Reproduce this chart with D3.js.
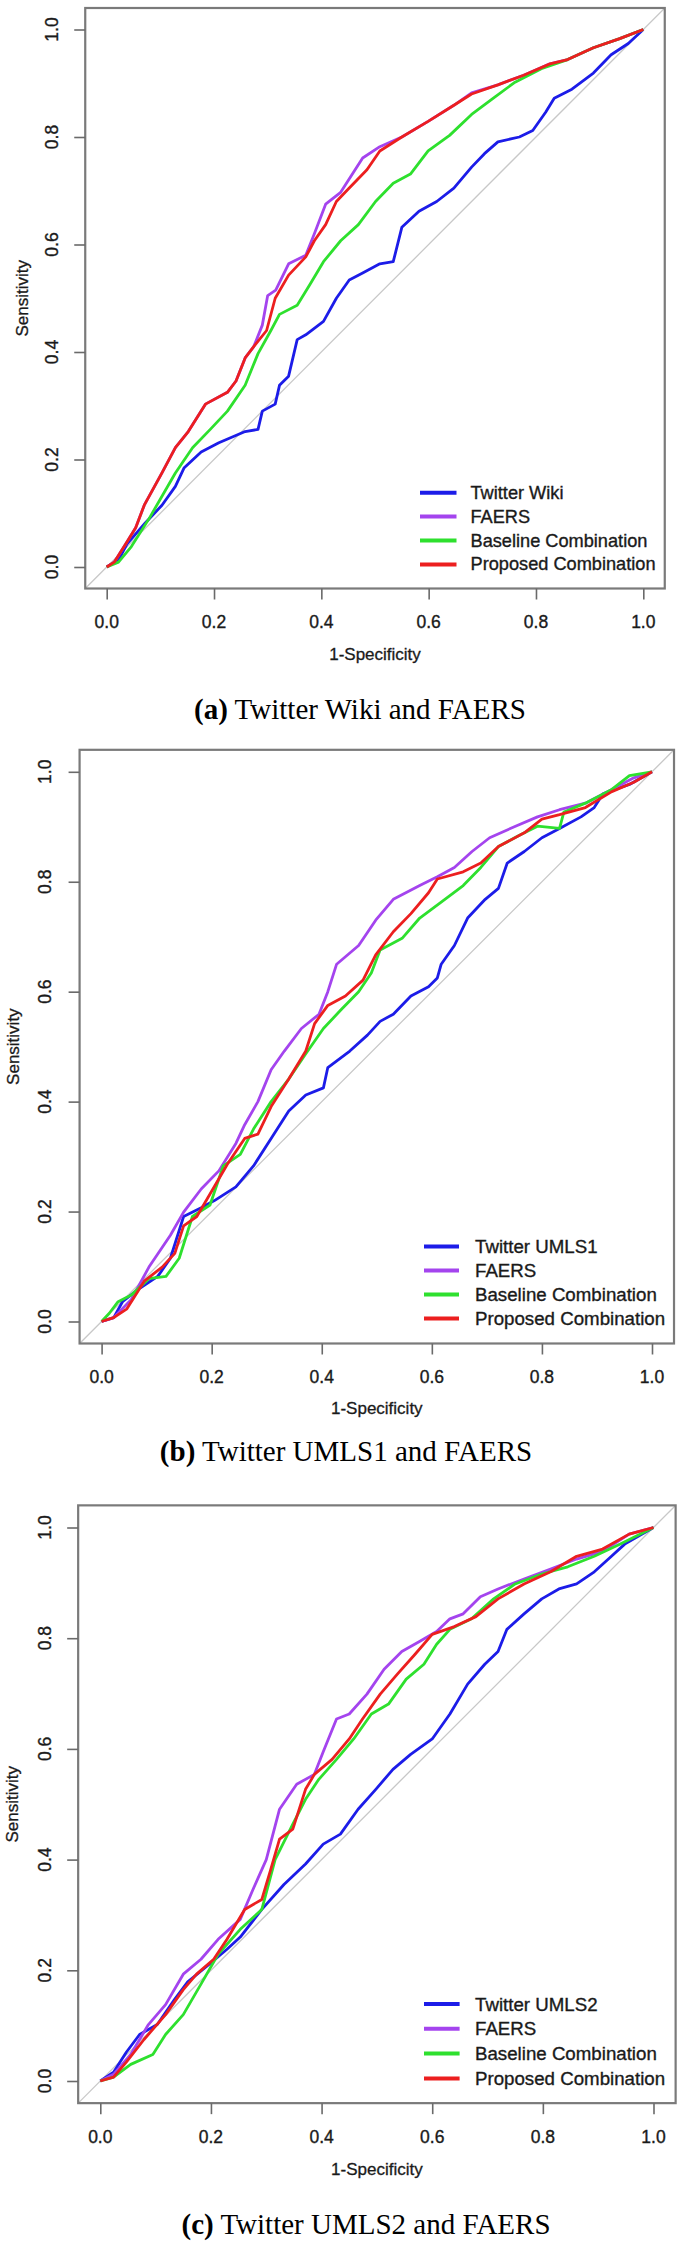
<!DOCTYPE html>
<html>
<head>
<meta charset="utf-8">
<script src="https://cdn.jsdelivr.net/npm/d3@7"></script>
<style>
  body { margin: 0; background: #fff; }
  svg { display: block; }
</style>
</head>
<body>
<svg id="chart" width="685" height="2244"></svg>
<script>
// tick values shared by every panel
const ticks = [0, 0.2, 0.4, 0.6, 0.8, 1.0];

// legend order = draw order
const colors = ['#1c1ce8', '#a444ee', '#2ee02e', '#ec1f1f'];

const namesA = ['Twitter Wiki', 'FAERS', 'Baseline Combination', 'Proposed Combination'];
const namesB = ['Twitter UMLS1', 'FAERS', 'Baseline Combination', 'Proposed Combination'];
const namesC = ['Twitter UMLS2', 'FAERS', 'Baseline Combination', 'Proposed Combination'];

// (a) Twitter Wiki and FAERS : [1-specificity, sensitivity]
const aTwitter = [[0,0],[0.022,0.013],[0.038,0.043],[0.071,0.081],[0.103,0.115],[0.128,0.15],[0.144,0.184],[0.176,0.214],[0.209,0.231],[0.258,0.252],[0.282,0.256],[0.29,0.29],[0.314,0.303],[0.322,0.338],[0.339,0.355],[0.355,0.423],[0.371,0.432],[0.404,0.457],[0.428,0.5],[0.452,0.534],[0.477,0.547],[0.509,0.564],[0.534,0.568],[0.55,0.632],[0.582,0.662],[0.615,0.68],[0.647,0.705],[0.68,0.744],[0.704,0.769],[0.729,0.791],[0.769,0.8],[0.794,0.812],[0.818,0.846],[0.834,0.872],[0.867,0.889],[0.907,0.919],[0.94,0.953],[0.972,0.974],[1,1]];
const aFaers = [[0,0],[0.014,0.009],[0.038,0.047],[0.054,0.073],[0.07,0.115],[0.103,0.175],[0.128,0.222],[0.152,0.252],[0.184,0.303],[0.225,0.325],[0.241,0.346],[0.258,0.389],[0.274,0.41],[0.29,0.45],[0.3,0.505],[0.315,0.515],[0.339,0.564],[0.371,0.58],[0.387,0.62],[0.408,0.675],[0.436,0.697],[0.477,0.761],[0.509,0.782],[0.55,0.8],[0.599,0.829],[0.647,0.859],[0.68,0.882],[0.729,0.897],[0.777,0.915],[0.826,0.936],[0.859,0.944],[0.907,0.966],[0.956,0.983],[1,1]];
const aBaseline = [[0,0],[0.022,0.009],[0.046,0.038],[0.079,0.09],[0.128,0.175],[0.16,0.222],[0.193,0.256],[0.225,0.29],[0.258,0.338],[0.282,0.397],[0.306,0.44],[0.322,0.47],[0.355,0.487],[0.379,0.526],[0.404,0.568],[0.436,0.607],[0.469,0.637],[0.501,0.68],[0.534,0.714],[0.566,0.731],[0.599,0.774],[0.639,0.803],[0.68,0.842],[0.72,0.872],[0.761,0.902],[0.81,0.927],[0.859,0.944],[0.907,0.966],[0.956,0.983],[1,1]];
const aProposed = [[0,0],[0.014,0.009],[0.038,0.047],[0.054,0.073],[0.07,0.115],[0.103,0.175],[0.128,0.222],[0.152,0.252],[0.184,0.303],[0.225,0.325],[0.241,0.346],[0.258,0.389],[0.274,0.41],[0.298,0.44],[0.314,0.5],[0.339,0.543],[0.371,0.577],[0.387,0.607],[0.408,0.637],[0.428,0.68],[0.452,0.705],[0.485,0.739],[0.509,0.774],[0.55,0.8],[0.599,0.829],[0.647,0.859],[0.68,0.88],[0.729,0.897],[0.777,0.915],[0.826,0.936],[0.859,0.944],[0.907,0.966],[0.956,0.983],[1,1]];

// (b) Twitter UMLS1 and FAERS
const bTwitter = [[0,0],[0.022,0.007],[0.038,0.036],[0.07,0.061],[0.102,0.082],[0.125,0.115],[0.149,0.191],[0.181,0.207],[0.205,0.22],[0.244,0.245],[0.276,0.283],[0.308,0.333],[0.34,0.383],[0.371,0.412],[0.403,0.425],[0.411,0.462],[0.451,0.492],[0.483,0.521],[0.506,0.546],[0.53,0.559],[0.562,0.592],[0.594,0.609],[0.61,0.625],[0.617,0.65],[0.641,0.684],[0.665,0.734],[0.697,0.768],[0.721,0.788],[0.737,0.834],[0.768,0.855],[0.8,0.88],[0.832,0.897],[0.871,0.918],[0.895,0.935],[0.911,0.96],[0.959,0.977],[1,1]];
const bFaers = [[0,0],[0.022,0.007],[0.054,0.04],[0.086,0.099],[0.125,0.157],[0.149,0.199],[0.181,0.241],[0.213,0.274],[0.244,0.324],[0.26,0.358],[0.284,0.4],[0.308,0.458],[0.332,0.492],[0.363,0.533],[0.395,0.559],[0.411,0.6],[0.427,0.65],[0.467,0.684],[0.498,0.73],[0.53,0.768],[0.578,0.793],[0.61,0.809],[0.641,0.826],[0.673,0.855],[0.705,0.88],[0.752,0.901],[0.792,0.918],[0.832,0.931],[0.879,0.943],[0.927,0.968],[0.967,0.989],[1,1]];
const bBaseline = [[0,0],[0.014,0.015],[0.03,0.036],[0.054,0.048],[0.086,0.078],[0.117,0.082],[0.141,0.115],[0.165,0.191],[0.197,0.212],[0.221,0.283],[0.252,0.304],[0.276,0.35],[0.308,0.4],[0.34,0.441],[0.371,0.487],[0.403,0.533],[0.435,0.567],[0.467,0.6],[0.49,0.634],[0.506,0.676],[0.546,0.697],[0.578,0.734],[0.617,0.763],[0.657,0.793],[0.689,0.826],[0.721,0.864],[0.76,0.885],[0.792,0.901],[0.832,0.897],[0.84,0.927],[0.879,0.943],[0.927,0.968],[0.959,0.993],[1,1]];
const bProposed = [[0,0],[0.022,0.007],[0.046,0.023],[0.078,0.074],[0.11,0.099],[0.133,0.124],[0.149,0.174],[0.173,0.191],[0.197,0.232],[0.229,0.287],[0.26,0.333],[0.284,0.341],[0.308,0.391],[0.34,0.441],[0.371,0.492],[0.387,0.542],[0.411,0.575],[0.443,0.592],[0.475,0.621],[0.498,0.667],[0.53,0.709],[0.562,0.742],[0.594,0.78],[0.61,0.805],[0.657,0.818],[0.689,0.834],[0.721,0.864],[0.768,0.889],[0.8,0.914],[0.832,0.922],[0.879,0.935],[0.927,0.964],[0.967,0.981],[1,1]];

// (c) Twitter UMLS2 and FAERS
const cTwitter = [[0,0],[0.024,0.016],[0.047,0.052],[0.071,0.084],[0.103,0.102],[0.134,0.147],[0.158,0.179],[0.197,0.211],[0.229,0.238],[0.253,0.26],[0.292,0.31],[0.332,0.355],[0.371,0.392],[0.403,0.428],[0.434,0.446],[0.466,0.491],[0.498,0.527],[0.529,0.563],[0.561,0.59],[0.6,0.618],[0.632,0.663],[0.664,0.717],[0.695,0.753],[0.719,0.776],[0.735,0.816],[0.766,0.844],[0.798,0.871],[0.829,0.889],[0.861,0.898],[0.893,0.92],[0.924,0.948],[0.948,0.97],[1,1]];
const cFaers = [[0,0],[0.024,0.012],[0.055,0.048],[0.087,0.102],[0.118,0.138],[0.15,0.193],[0.182,0.22],[0.213,0.256],[0.253,0.292],[0.276,0.346],[0.3,0.4],[0.324,0.491],[0.355,0.536],[0.387,0.554],[0.403,0.595],[0.427,0.654],[0.45,0.663],[0.482,0.699],[0.513,0.744],[0.545,0.776],[0.577,0.794],[0.608,0.812],[0.632,0.835],[0.656,0.844],[0.687,0.875],[0.719,0.889],[0.766,0.907],[0.814,0.925],[0.861,0.943],[0.908,0.957],[0.956,0.988],[1,1]];
const cBaseline = [[0,0],[0.024,0.007],[0.055,0.03],[0.095,0.048],[0.118,0.084],[0.15,0.12],[0.182,0.175],[0.213,0.229],[0.253,0.274],[0.292,0.31],[0.316,0.4],[0.348,0.464],[0.371,0.509],[0.395,0.545],[0.427,0.581],[0.458,0.618],[0.49,0.663],[0.521,0.681],[0.553,0.726],[0.585,0.753],[0.608,0.789],[0.632,0.816],[0.671,0.835],[0.711,0.871],[0.75,0.898],[0.798,0.916],[0.845,0.929],[0.893,0.948],[0.94,0.97],[1,1]];
const cProposed = [[0,0],[0.024,0.007],[0.047,0.034],[0.079,0.075],[0.118,0.12],[0.15,0.165],[0.174,0.193],[0.205,0.22],[0.229,0.256],[0.261,0.31],[0.292,0.328],[0.308,0.382],[0.324,0.437],[0.348,0.455],[0.371,0.527],[0.387,0.554],[0.419,0.581],[0.45,0.618],[0.474,0.654],[0.506,0.699],[0.537,0.735],[0.569,0.771],[0.6,0.807],[0.64,0.821],[0.679,0.839],[0.719,0.871],[0.766,0.898],[0.814,0.92],[0.861,0.948],[0.908,0.961],[0.956,0.988],[1,1]];

// panel layout (pixel positions of the data range 0..1, labels, legend, caption)
const panels = [
  { tag: '(a)', caption: 'Twitter Wiki and FAERS', names: namesA,
    curves: [aTwitter, aFaers, aBaseline, aProposed],
    left: 106.7, right: 643.3, bottom: 567, top: 29.5,
    yLabelX: 52, yTitleX: 22, xLabelY: 622, xTitleY: 654,
    legX1: 420, legX2: 456.5, legTextX: 470.5, legY: 492.7, legStep: 23.9, legFont: 18.2,
    capX: 360, capY: 719 },
  { tag: '(b)', caption: 'Twitter UMLS1 and FAERS', names: namesB,
    curves: [bTwitter, bFaers, bBaseline, bProposed],
    left: 101.6, right: 652, bottom: 1321.5, top: 771.8,
    yLabelX: 45, yTitleX: 13, xLabelY: 1377, xTitleY: 1408.6,
    legX1: 424, legX2: 459, legTextX: 475, legY: 1246.5, legStep: 24, legFont: 18.7,
    capX: 346, capY: 1461 },
  { tag: '(c)', caption: 'Twitter UMLS2 and FAERS', names: namesC,
    curves: [cTwitter, cFaers, cBaseline, cProposed],
    left: 100.3, right: 653.5, bottom: 2081, top: 1527.5,
    yLabelX: 45, yTitleX: 12, xLabelY: 2137, xTitleY: 2169,
    legX1: 424, legX2: 459.6, legTextX: 475, legY: 2004, legStep: 24.8, legFont: 18.7,
    capX: 366, capY: 2234 }
];

const svg = d3.select('#chart');
const SANS = 'Liberation Sans, Arial, Helvetica, sans-serif';
const SERIF = 'Liberation Serif, Times New Roman, serif';

panels.forEach((p, i) => {
  // R pads the data range by 4% on each side
  const x = d3.scaleLinear().domain([0, 1]).range([p.left, p.right]);
  const y = d3.scaleLinear().domain([0, 1]).range([p.bottom, p.top]);
  const bx0 = x(-0.04), bx1 = x(1.04), by0 = y(-0.04), by1 = y(1.04);

  const g = svg.append('g');

  const clipId = 'clip' + i;
  g.append('clipPath').attr('id', clipId)
    .append('rect')
    .attr('x', bx0).attr('y', by1)
    .attr('width', bx1 - bx0).attr('height', by0 - by1);

  // chance diagonal
  g.append('line')
    .attr('clip-path', `url(#${clipId})`)
    .attr('x1', x(-0.04)).attr('y1', y(-0.04))
    .attr('x2', x(1.04)).attr('y2', y(1.04))
    .attr('stroke', '#c8c8c8')
    .attr('stroke-width', 1.3);

  // roc curves
  const line = d3.line().x(d => x(d[0])).y(d => y(d[1]));
  g.selectAll('path.roc')
    .data(p.curves)
    .join('path')
    .attr('class', 'roc')
    .attr('clip-path', `url(#${clipId})`)
    .attr('d', line)
    .attr('fill', 'none')
    .attr('stroke', (d, k) => colors[k])
    .attr('stroke-width', 2.8)
    .attr('stroke-linejoin', 'round');

  // frame
  g.append('rect')
    .attr('x', bx0).attr('y', by1)
    .attr('width', bx1 - bx0).attr('height', by0 - by1)
    .attr('fill', 'none')
    .attr('stroke', '#7a7a7a')
    .attr('stroke-width', 2.2);

  // axes (ticks only, labels drawn separately)
  const xAxis = g.append('g')
    .attr('transform', `translate(0,${by0})`)
    .call(d3.axisBottom(x).tickValues(ticks).tickSize(11).tickFormat(''));
  const yAxis = g.append('g')
    .attr('transform', `translate(${bx0},0)`)
    .call(d3.axisLeft(y).tickValues(ticks).tickSize(11).tickFormat(''));
  [xAxis, yAxis].forEach(a => {
    a.select('.domain').remove();
    a.selectAll('line').attr('stroke', '#6a6a6a').attr('stroke-width', 1.6);
  });

  // x tick labels
  g.selectAll('text.xtick')
    .data(ticks)
    .join('text')
    .attr('class', 'xtick')
    .attr('x', d => x(d))
    .attr('y', p.xLabelY)
    .attr('text-anchor', 'middle')
    .attr('dominant-baseline', 'central')
    .style('font', `17.5px ${SANS}`)
    .attr('fill', '#1a1a1a')
    .attr('stroke', '#1a1a1a').attr('stroke-width', 0.35)
    .text(d => d.toFixed(1));

  // y tick labels (rotated like R's las = 0)
  g.selectAll('text.ytick')
    .data(ticks)
    .join('text')
    .attr('class', 'ytick')
    .attr('transform', d => `translate(${p.yLabelX},${y(d)}) rotate(-90)`)
    .attr('text-anchor', 'middle')
    .attr('dominant-baseline', 'central')
    .style('font', `17.5px ${SANS}`)
    .attr('fill', '#1a1a1a')
    .attr('stroke', '#1a1a1a').attr('stroke-width', 0.35)
    .text(d => d.toFixed(1));

  // axis titles
  g.append('text')
    .attr('x', (bx0 + bx1) / 2)
    .attr('y', p.xTitleY)
    .attr('text-anchor', 'middle')
    .attr('dominant-baseline', 'central')
    .style('font', `17px ${SANS}`)
    .attr('fill', '#1a1a1a')
    .attr('stroke', '#1a1a1a').attr('stroke-width', 0.3)
    .text('1-Specificity');

  g.append('text')
    .attr('transform', `translate(${p.yTitleX},${(by0 + by1) / 2}) rotate(-90)`)
    .attr('text-anchor', 'middle')
    .attr('dominant-baseline', 'central')
    .style('font', `17px ${SANS}`)
    .attr('fill', '#1a1a1a')
    .attr('stroke', '#1a1a1a').attr('stroke-width', 0.3)
    .text('Sensitivity');

  // legend
  const leg = g.selectAll('g.leg')
    .data(p.names)
    .join('g')
    .attr('class', 'leg')
    .attr('transform', (d, k) => `translate(0,${p.legY + k * p.legStep})`);
  leg.append('line')
    .attr('x1', p.legX1).attr('x2', p.legX2)
    .attr('stroke', (d, k) => colors[k])
    .attr('stroke-width', 4);
  leg.append('text')
    .attr('x', p.legTextX)
    .attr('dominant-baseline', 'central')
    .style('font', `${p.legFont}px ${SANS}`)
    .attr('fill', '#1a1a1a')
    .attr('stroke', '#1a1a1a').attr('stroke-width', 0.35)
    .text(d => d);

  // caption
  const cap = g.append('text')
    .attr('x', p.capX)
    .attr('y', p.capY)
    .attr('text-anchor', 'middle')
    .style('font', `29px ${SERIF}`)
    .attr('fill', '#000');
  cap.append('tspan').style('font-weight', 'bold').text(p.tag);
  cap.append('tspan').text(' ' + p.caption);
});
</script>
</body>
</html>
